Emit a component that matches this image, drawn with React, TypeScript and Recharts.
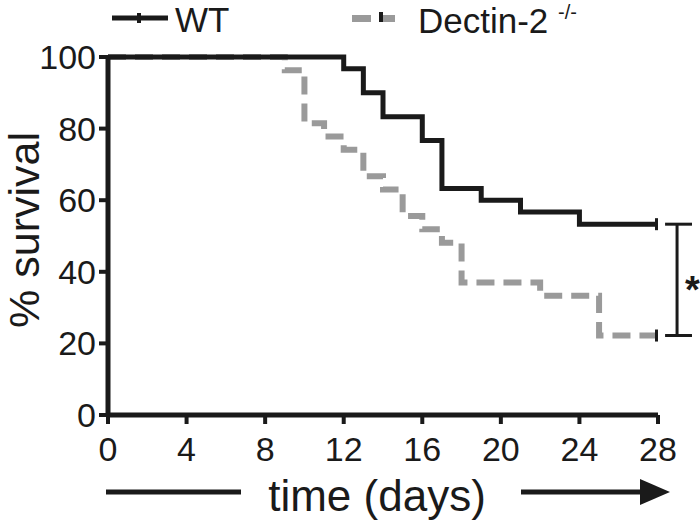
import React from 'react';
import { LineChart, Line, XAxis, YAxis, ReferenceLine, ReferenceDot } from 'recharts';

// Kaplan-Meier step data (day of event, % surviving after that day)
const wtDays = [0, 12, 13, 14, 16, 17, 19, 21, 24, 28];
const wtSurvival = [100, 96.7, 90, 83.3, 76.7, 63.3, 60, 56.7, 53.3, 53.3];

const dectinDays = [0, 9, 10, 11, 12, 13, 14, 15, 16, 17, 18, 22, 25, 28];
const dectinSurvival = [100, 96.3, 81.5, 77.8, 74.1, 66.7, 63.0, 55.6, 51.9, 48.1, 37.0, 33.3, 22.2, 22.2];

const xTicks = [0, 4, 8, 12, 16, 20, 24, 28];
const yTicks = [0, 20, 40, 60, 80, 100];

const wtData = wtDays.map((day, i) => ({ day, value: wtSurvival[i] }));
const dectinData = dectinDays.map((day, i) => ({ day, value: dectinSurvival[i] }));

const FONT = 'Arial, "Liberation Sans", Helvetica, sans-serif';
const INK = '#1a1a1a';
const GREY = '#9a9a9a';

const CensorDot = (props: any) => {
  const { cx, cy, payload, index } = props;
  if (payload.day !== 28) return <g key={`d-${index}`} />;
  return <rect key={`d-${index}`} x={cx - 3} y={cy - 6} width={5} height={12} fill={INK} />;
};

const XTitle = () => (
  <g>
    <line x1={106} x2={241} y1={492} y2={492} stroke={INK} strokeWidth={5} />
    <text x={377} y={511} textAnchor="middle" fontSize={44} fontFamily={FONT} fill={INK}>
      time (days)
    </text>
    <line x1={521} x2={645} y1={492} y2={492} stroke={INK} strokeWidth={5} />
    <polygon points="640,479 670,492 640,505" fill={INK} />
  </g>
);

const YTitle = () => (
  <text
    x={39}
    y={230}
    textAnchor="middle"
    fontSize={43}
    fontFamily={FONT}
    fill={INK}
    transform="rotate(-90, 39, 230)"
  >
    % survival
  </text>
);

const App: React.FC = () => {
  return (
    <div style={{ position: 'absolute', left: 0, top: 0, width: 700, height: 525, background: '#fff' }}>
      <svg width={700} height={50} style={{ position: 'absolute', left: 0, top: 0 }}>
        <line x1={112} x2={168} y1={18} y2={18} stroke={INK} strokeWidth={5} />
        <rect x={137} y={13} width={4} height={10} fill={INK} />
        <text x={175} y={32} fontSize={35} fontFamily={FONT} fill={INK}>WT</text>
        <rect x={352} y={15} width={19} height={7} fill={GREY} />
        <rect x={380} y={15} width={15} height={7} fill={GREY} />
        <rect x={379} y={12} width={4} height={10} fill={INK} />
        <text x={418} y={33} fontSize={35} fontFamily={FONT} fill={INK}>Dectin-2</text>
        <text x={558} y={19} fontSize={20} fontFamily={FONT} fill={INK}>-/-</text>
      </svg>
      <LineChart width={700} height={525} margin={{ top: 57, right: 42, bottom: 0, left: 0 }}>
        <XAxis
          type="number"
          dataKey="day"
          domain={[0, 28]}
          ticks={xTicks}
          allowDataOverflow
          height={110}
          axisLine={{ stroke: INK, strokeWidth: 5 }}
          tickLine={{ stroke: INK, strokeWidth: 4 }}
          tickSize={9}
          tickMargin={13}
          tick={{ fontSize: 34, fontFamily: FONT, fill: INK }}
          label={<XTitle />}
        />
        <YAxis
          type="number"
          domain={[0, 100]}
          ticks={yTicks}
          width={108}
          axisLine={{ stroke: INK, strokeWidth: 5 }}
          tickLine={{ stroke: INK, strokeWidth: 4 }}
          tickSize={9}
          tickMargin={3}
          tick={{ fontSize: 34, fontFamily: FONT, fill: INK }}
          label={<YTitle />}
        />
        <Line
          data={dectinData}
          dataKey="value"
          type="stepAfter"
          stroke={GREY}
          strokeWidth={6}
          strokeDasharray="18 9"
          dot={<CensorDot />}
          activeDot={false}
          isAnimationActive={false}
        />
        <Line
          data={wtData}
          dataKey="value"
          type="stepAfter"
          stroke={INK}
          strokeWidth={5}
          dot={<CensorDot />}
          activeDot={false}
          isAnimationActive={false}
        />
        <ReferenceLine segment={[{ x: 28.97, y: 53.3 }, { x: 28.97, y: 22.2 }]} stroke={INK} strokeWidth={3} ifOverflow="visible" />
        <ReferenceLine segment={[{ x: 28.36, y: 53.3 }, { x: 29.73, y: 53.3 }]} stroke={INK} strokeWidth={3} ifOverflow="visible" />
        <ReferenceLine segment={[{ x: 28.36, y: 22.2 }, { x: 29.73, y: 22.2 }]} stroke={INK} strokeWidth={3} ifOverflow="visible" />
        <ReferenceDot
          x={29.75}
          y={37.8}
          r={1}
          fill="none"
          stroke="none"
          ifOverflow="visible"
          label={{ value: '*', position: 'center', fontSize: 38, fontWeight: 'bold', fontFamily: FONT, fill: INK, dy: 10 }}
        />
      </LineChart>
    </div>
  );
};

export default App;
